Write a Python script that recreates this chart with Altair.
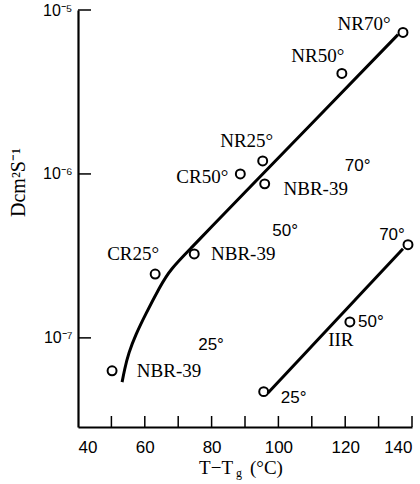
import altair as alt
import pandas as pd

# ---- data ----
pt_name = ["NR70", "NR50", "NR25", "CR50", "NBR70", "NBR50", "CR25", "NBR25",
           "IIR70", "IIR50", "IIR25"]
pt_x = [137.3, 119.0, 95.3, 88.6, 95.9, 74.8, 63.1, 50.2, 138.8, 121.4, 95.6]
pt_d = [7.3e-6, 4.1e-6, 1.2e-6, 1.0e-6, 8.7e-7, 3.25e-7, 2.45e-7, 6.3e-8,
        3.7e-7, 1.25e-7, 4.7e-8]

curve_x = [53.2, 54.0, 55.3, 57.4, 60.4, 64.3, 68.2, 74.2, 80.0, 90.0, 110.0, 135.8]
curve_d = [5.37e-8, 6.46e-8, 8.13e-8, 1.05e-7, 1.41e-7, 2.0e-7, 2.65e-7, 3.59e-7,
           4.76e-7, 7.73e-7, 2.03e-6, 7.08e-6]

iir_x = [96.8, 137.3]
iir_d = [4.6e-8, 3.5e-7]

lab_point = ["NR70", "NR50", "NR25", "CR50", "NBR70", "NBR70", "NBR50", "NBR50",
             "CR25", "NBR25", "NBR25", "IIR70", "IIR50", "IIR50", "IIR25"]
lab_text = ["NR70°", "NR50°", "NR25°", "CR50°", "NBR-39", "70°", "NBR-39", "50°",
            "CR25°", "NBR-39", "25°", "70°", "50°", "IIR", "25°"]
lab_family = ["serif", "serif", "serif", "serif", "serif", "sans", "serif", "sans",
              "serif", "serif", "sans", "sans", "sans", "serif", "sans"]
lab_dx = [-39, -24, -16, -38, 51, 93, 49, 91, -22, 57, 99, -16, 21, -9, 30]
lab_dy = [-8, -17, -20, 3, 5, -18, 0, -23, -20, 0, -26, -10, 0, 18, 6]

x_tick_values = [50, 60, 70, 80, 90, 100, 110, 120, 130, 140]
x_label_values = [40, 60, 80, 100, 120, 140]
y_tick_values = [1e-7, 1e-6, 1e-5]

x_title_parts = ["T−T", "g", "(°C)"]

# ---- tables ----
points = pd.DataFrame({"name": pt_name, "x": pt_x, "d": pt_d})
curve = pd.DataFrame({"x": curve_x, "d": curve_d, "o": list(range(len(curve_x)))})
iir = pd.DataFrame({"x": iir_x, "d": iir_d, "o": list(range(len(iir_x)))})
pos = dict(zip(pt_name, zip(pt_x, pt_d)))
xt = pd.DataFrame({"x": x_tick_values})
yt = pd.DataFrame({"d": y_tick_values})

W, H = 334, 417
xs = alt.Scale(domain=[40, 140], nice=False, zero=False)
ys = alt.Scale(type="log", domain=[2.86e-8, 1e-5], nice=False)

x_axis = alt.Axis(values=x_label_values, ticks=False, tickSize=0, grid=False,
                  domainColor="black", domainWidth=2.2,
                  labelFont="Liberation Sans", labelFontSize=17, labelColor="black",
                  labelPadding=12, title="")
y_axis = alt.Axis(values=y_tick_values, ticks=False, tickSize=0, grid=False,
                  domainColor="black", domainWidth=2.2,
                  labelExpr="datum.value >= 5e-6 ? '10⁻⁵' : datum.value >= 5e-7 ? '10⁻⁶' : '10⁻⁷'",
                  labelFont="Liberation Sans", labelFontSize=16, labelColor="black",
                  labelPadding=6, title="Dcm²S⁻¹", titleFont="Liberation Serif",
                  titleFontSize=20, titleFontWeight="normal", titleColor="black",
                  titleX=-60, titleY=172, titleAlign="center", titleBaseline="middle",
                  titleAngle=-90)

X = alt.X("x:Q", scale=xs, axis=x_axis)
Y = alt.Y("d:Q", scale=ys, axis=y_axis)

pts = alt.Chart(points).mark_point(shape="circle", filled=False, size=80,
                                   strokeWidth=2, color="black",
                                   opacity=1).encode(x=X, y=Y)

main_line = alt.Chart(curve).mark_line(color="black", strokeWidth=3,
                                       interpolate="natural").encode(
    x=X, y=Y, order="o:Q")
iir_line = alt.Chart(iir).mark_line(color="black", strokeWidth=3).encode(
    x=X, y=Y, order="o:Q")

xticks = alt.Chart(xt).mark_rule(color="black", strokeWidth=1.5).encode(
    x=X, y=alt.value(H - 11), y2=alt.value(H))
yticks = alt.Chart(yt).mark_rule(color="black", strokeWidth=1.5).encode(
    y=Y, x=alt.value(0), x2=alt.value(13))

text_layers = []
for i in range(len(lab_text)):
    px, pd_ = pos[lab_point[i]]
    one = pd.DataFrame({"x": [px], "d": [pd_], "text": [lab_text[i]]})
    serif = lab_family[i] == "serif"
    text_layers.append(
        alt.Chart(one).mark_text(
            font="Liberation Serif" if serif else "Liberation Sans",
            fontSize=19 if serif else 17, color="black",
            align="center", baseline="middle",
            dx=lab_dx[i], dy=lab_dy[i],
        ).encode(x=X, y=Y, text="text:N")
    )

# x-axis title with a subscript g
title_src = pd.DataFrame({"t": [0]})
tt1 = alt.Chart(title_src).mark_text(font="Liberation Serif", fontSize=19, color="black",
                                     align="right", baseline="middle",
                                     text=x_title_parts[0]).encode(
    x=alt.value(155), y=alt.value(H + 41))
tt2 = alt.Chart(title_src).mark_text(font="Liberation Serif", fontSize=12, color="black",
                                     align="center", baseline="middle",
                                     text=x_title_parts[1]).encode(
    x=alt.value(161), y=alt.value(H + 46))
tt3 = alt.Chart(title_src).mark_text(font="Liberation Serif", fontSize=19, color="black",
                                     align="left", baseline="middle",
                                     text=x_title_parts[2]).encode(
    x=alt.value(172), y=alt.value(H + 41))

chart = alt.layer(
    pts, main_line, iir_line, xticks, yticks, *text_layers, tt1, tt2, tt3,
).properties(
    width=W, height=H,
    padding={"left": 78, "top": 10, "right": 8, "bottom": 57},
    autosize="none",
    background="white",
).configure_view(stroke=None)

chart.save("out.html", embed_options={"renderer": "svg", "actions": False})
